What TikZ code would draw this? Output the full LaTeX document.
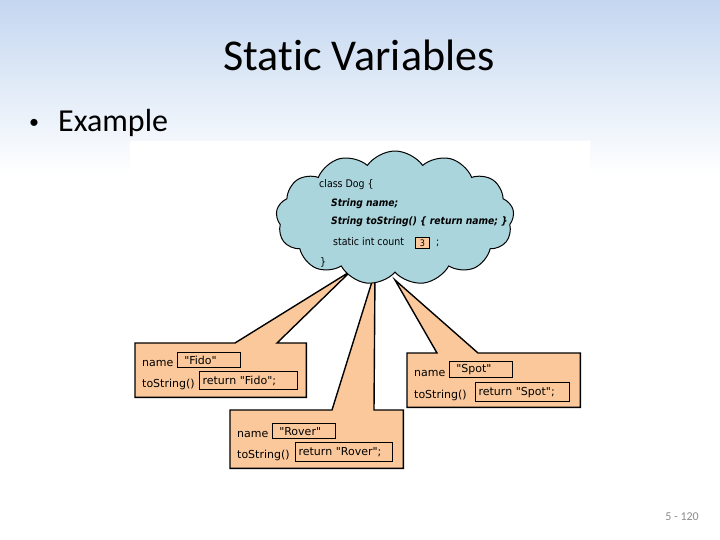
\documentclass[tikz,border=0pt]{standalone}
\usepackage{fontspec}
\setmainfont{Carlito}[Ligatures=NoCommon]
\newfontfamily\codefont{DejaVu Sans Condensed}
\newfontfamily\objfont{DejaVu Sans}
\usetikzlibrary{shapes.symbols,calc}
\definecolor{bgblue}{RGB}{196,215,240}
\definecolor{cloudblue}{RGB}{170,213,220}
\definecolor{callorange}{RGB}{250,200,155}
\definecolor{pagegray}{RGB}{140,140,140}
\tikzset{
  x=1pt, y=-1pt,
  callout/.style={fill=callorange, draw=black, line width=1.4pt, line join=miter},
  framebox/.style={draw=none, inner sep=0pt, anchor=north west},
  lbl/.style={font=\objfont\fontsize{11}{13}\selectfont, anchor=base west, inner sep=0pt},
  valbox/.style={draw=black, line width=1.2pt, anchor=north west, inner xsep=3pt, inner ysep=0pt,
    align=left, font=\objfont\fontsize{11}{13}\selectfont},
  codeline/.style={font=\codefont\fontsize{10.5}{12}\selectfont, anchor=base west, inner sep=0pt},
  codeit/.style={font=\codefont\bfseries\itshape\fontsize{10.2}{12}\selectfont, anchor=base west, inner sep=0pt},
}
\begin{document}
\begin{tikzpicture}
\useasboundingbox (0,0) rectangle (720,540);
% background
\fill[white] (0,0) rectangle (720,540);
\shade[top color=bgblue, bottom color=white] (0,0) rectangle (720,175);
\fill[white] (130,141) rectangle (590,480);

% title and bullet
\node[font=\fontsize{44}{48}\selectfont, anchor=base, inner sep=0pt] (title) at (359,71) {Static Variables};
\node[font=\fontsize{20}{24}\selectfont, anchor=base west, inner sep=0pt] (bullet) at (29,129) {•};
\node[font=\fontsize{32}{36}\selectfont, anchor=base west, inner sep=0pt] (example) at (58,132) {Example};
\node[font=\fontsize{12}{14}\selectfont, text=pagegray, anchor=base east, inner sep=0pt] (pagenum) at (699,520) {5 - 120};

% frames of the three objects
\node[framebox, minimum width=171pt, minimum height=54pt] (fido) at (135,343) {};
\node[framebox, minimum width=173pt, minimum height=54pt] (spot) at (407,353) {};
\node[framebox, minimum width=173pt, minimum height=58pt] (rover) at (230,410) {};

\coordinate (tipF) at (351,271);
\coordinate (tipR) at (375,272);
\coordinate (tipS) at (395,280);

\draw[callout] (fido.north west) -- ++(100,0) -- (tipF) -- ($(fido.north west)+(142,0)$)
  -- (fido.north east) -- (fido.south east) -- (fido.south west) -- cycle;
\draw[callout] (spot.north west) -- ++(30,0) -- (tipS) -- ($(spot.north west)+(71,0)$)
  -- (spot.north east) -- (spot.south east) -- (spot.south west) -- cycle;
\draw[callout] (rover.north west) -- ++(102,0) -- (tipR) -- ($(rover.north west)+(144,0)$)
  -- (rover.north east) -- (rover.south east) -- (rover.south west) -- cycle;

% Fido
\node[lbl] (fname) at (142,366) {name};
\node[valbox, minimum width=63pt, minimum height=15pt, text width=57pt] (fval) at (177,352) {\ "Fido"};
\node[lbl] (fts) at (142,387) {toString()};
\node[valbox, minimum width=98pt, minimum height=18pt, text width=92pt] (fret) at (199,371) {return "Fido";};

% Spot
\node[lbl] (sname) at (414,376) {name};
\node[valbox, minimum width=63pt, minimum height=16pt, text width=57pt] (sval) at (449,361) {\ "Spot"};
\node[lbl] (sts) at (414,398) {toString()};
\node[valbox, minimum width=94pt, minimum height=19pt, text width=88pt] (sret) at (475,382) {return "Spot";};

% Rover
\node[lbl] (rname) at (237,437) {name};
\node[valbox, minimum width=63pt, minimum height=15pt, text width=57pt] (rval) at (272,423) {\ "Rover"};
\node[lbl] (rts) at (237,458) {toString()};
\node[valbox, minimum width=97pt, minimum height=19pt, text width=91pt] (rret) at (295,442) {return "Rover";};

% cloud
\node[cloud, cloud puffs=13, cloud puff arc=110, aspect=1.8, draw=black, line width=1pt,
  fill=cloudblue, minimum width=238pt, minimum height=134pt] (cls) at (395,218) {};
\node[codeline] (l1) at (319,188) {class Dog \{};
\node[codeit] (l2) at (331,207) {String name;};
\node[codeit] (l3) at (331,225) {String toString() \{ return name; \}};
\node[codeline] (l4) at (333,245) {static int count};
\node[draw=black, line width=1pt, fill=callorange, minimum width=14pt, minimum height=11pt, inner sep=0pt,
  font=\codefont\fontsize{9}{10}\selectfont, anchor=north west] (cnt) at (415,237) {3};
\node[codeline] (l4b) at (436,245) {;};
\node[codeline] (l5) at (320,265) {\}};
\end{tikzpicture}
\end{document}
